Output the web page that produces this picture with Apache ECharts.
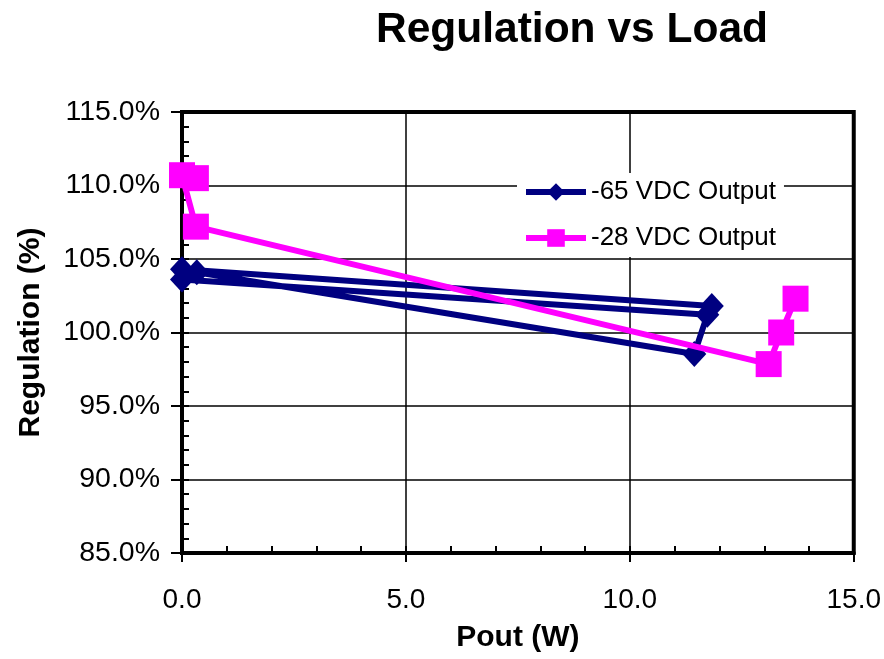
<!DOCTYPE html>
<html>
<head>
<meta charset="utf-8">
<script src="https://cdn.jsdelivr.net/npm/echarts@6/dist/echarts.min.js"></script>
<style>html,body{margin:0;padding:0;background:#fff}#c{width:884px;height:659px}</style>
</head>
<body>
<div id="c"></div>
<script>
// Data
const seriesNames = ['-65 VDC Output', '-28 VDC Output'];
const pout65 = [0.33, 11.44, 11.73, 0.0, 0.0, 11.83];
const reg65  = [104.1, 98.54, 101.2, 103.6, 104.3, 101.8];
const pout28 = [0.31, 0.0, 0.31, 13.1, 13.38, 13.7];
const reg28  = [110.5, 110.7, 107.2, 97.85, 100.0, 102.3];
const xTicks = [0, 5, 10, 15];
const yTicks = [85, 90, 95, 100, 105, 110, 115];

const FONT = 'Liberation Sans, Arial, sans-serif';
const chart = echarts.init(document.getElementById('c'), null, {renderer: 'canvas'});
const gridPos = {left: 182, right: 30, top: 112, bottom: 106};

function pairs(xs, ys) { return xs.map((x, i) => [x, ys[i]]); }

chart.setOption({
  animation: false,
  backgroundColor: '#fff',
  title: {
    text: 'Regulation vs Load',
    left: 567, top: 4, textAlign: 'center',
    textStyle: {fontFamily: FONT, fontSize: 42.5, fontWeight: 'bold', color: '#000'}
  },
  legend: {
    data: seriesNames,
    orient: 'vertical',
    left: 517, top: 173,
    backgroundColor: '#fff',
    padding: [6, 8, 6, 6],
    itemWidth: 60, itemHeight: 22, itemGap: 20,
    lineStyle: {width: 6},
    textStyle: {fontFamily: FONT, fontSize: 26, color: '#000'}
  },
  grid: [
    Object.assign({show: true, borderColor: '#000', borderWidth: 4, backgroundColor: 'transparent'}, gridPos),
    Object.assign({}, gridPos)
  ],
  xAxis: [
    {
      type: 'value', gridIndex: 0, min: xTicks[0], max: xTicks[xTicks.length - 1], interval: 5,
      name: 'Pout (W)', nameLocation: 'middle', nameGap: 70,
      nameTextStyle: {fontFamily: FONT, fontSize: 30, fontWeight: 'bold', color: '#000'},
      axisLine: {lineStyle: {color: '#000', width: 4}},
      axisTick: {show: true, inside: false, length: 9, lineStyle: {color: '#000', width: 2}},
      axisLabel: {fontFamily: FONT, fontSize: 28, color: '#000', margin: 33,
        formatter: v => v.toFixed(1)},
      splitLine: {show: true, lineStyle: {color: '#000', width: 1.5}}
    },
    {
      type: 'value', gridIndex: 1, position: 'bottom', min: 0, max: 15, interval: 1,
      axisLine: {show: false},
      axisTick: {show: true, inside: true, length: 7, lineStyle: {color: '#000', width: 2}},
      axisLabel: {show: false}, splitLine: {show: false}
    }
  ],
  yAxis: [
    {
      type: 'value', gridIndex: 0, min: yTicks[0], max: yTicks[yTicks.length - 1], interval: 5,
      name: 'Regulation (%)', nameLocation: 'middle', nameGap: 136,
      nameTextStyle: {fontFamily: FONT, fontSize: 30, fontWeight: 'bold', color: '#000'},
      axisLine: {lineStyle: {color: '#000', width: 4}},
      axisTick: {show: true, inside: false, length: 11, lineStyle: {color: '#000', width: 2}},
      axisLabel: {fontFamily: FONT, fontSize: 28.5, color: '#000', margin: 22,
        formatter: v => v.toFixed(1) + '%'},
      splitLine: {show: true, lineStyle: {color: '#000', width: 1.5}}
    },
    {
      type: 'value', gridIndex: 1, position: 'left', min: 85, max: 115, interval: 1,
      axisLine: {show: false},
      axisTick: {show: true, inside: true, length: 7, lineStyle: {color: '#000', width: 2}},
      axisLabel: {show: false}, splitLine: {show: false}
    }
  ],
  series: [
    {
      name: seriesNames[0], type: 'line', xAxisIndex: 0, yAxisIndex: 0,
      data: pairs(pout65, reg65),
      symbol: 'diamond', symbolSize: [24, 26],
      lineStyle: {color: '#000080', width: 6},
      itemStyle: {color: '#000080'},
      z: 3
    },
    {
      name: seriesNames[1], type: 'line', xAxisIndex: 0, yAxisIndex: 0,
      data: pairs(pout28, reg28),
      symbol: 'rect', symbolSize: 26,
      lineStyle: {color: '#FF00FF', width: 6},
      itemStyle: {color: '#FF00FF'},
      z: 4
    }
  ]
});
</script>
</body>
</html>
